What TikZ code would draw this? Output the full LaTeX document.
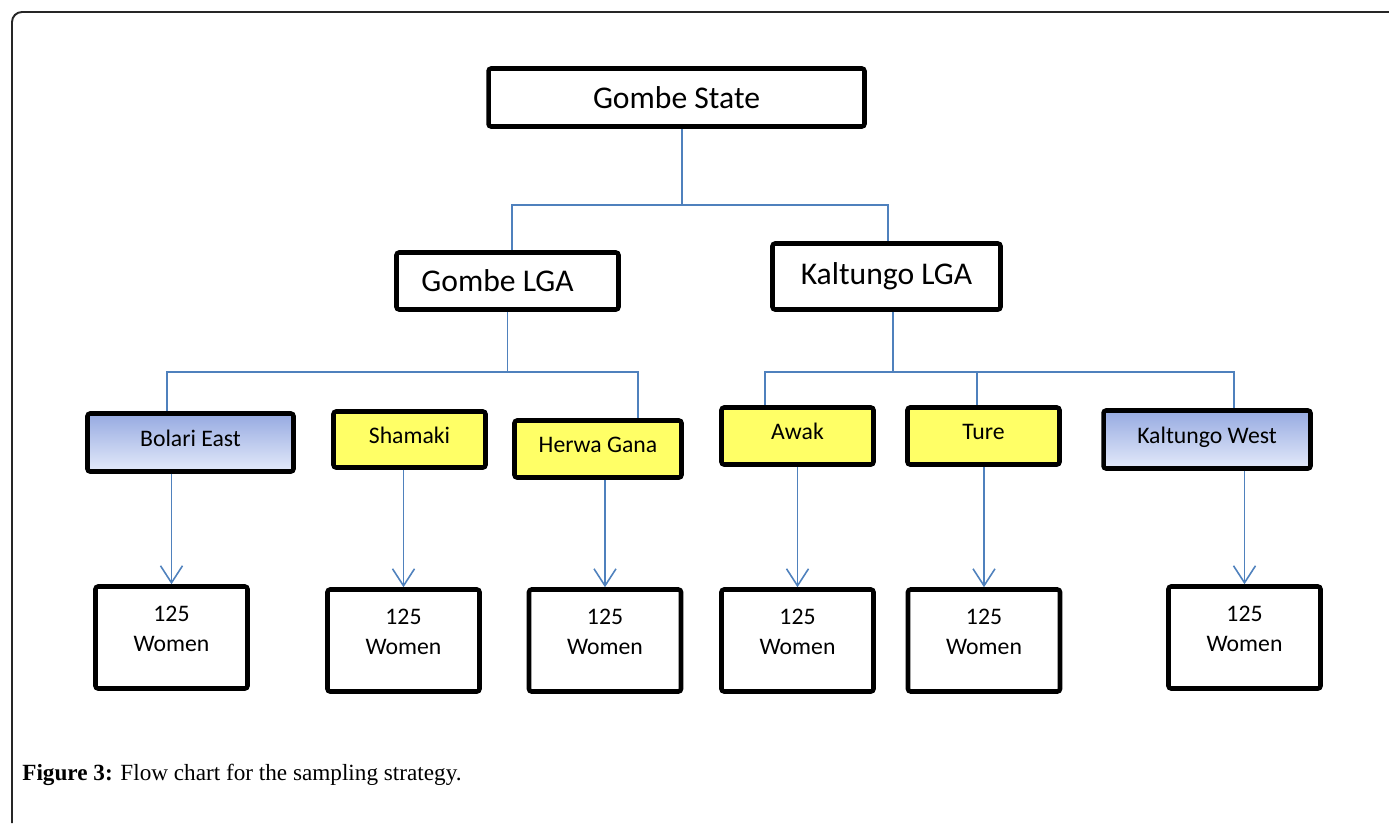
\documentclass[tikz,border=0pt]{standalone}
\usepackage{fontspec}
\setmainfont{Carlito}
\newfontfamily\captionserif{Liberation Serif}
\usetikzlibrary{arrows.meta}

\definecolor{linkblue}{RGB}{79,129,189}
\definecolor{wardyellow}{RGB}{255,255,102}
\definecolor{shadetop}{RGB}{150,170,225}
\definecolor{shadebottom}{RGB}{228,234,250}

\tikzset{
  box/.style={draw=black, line width=2.6pt, rounded corners=1.5pt, inner sep=2pt},
  statebox/.style={box, minimum width=7.52cm, minimum height=1.16cm, font=\fontsize{18}{22}\selectfont},
  lgabox/.style={box, font=\fontsize{18}{22}\selectfont},
  ward/.style={box, minimum height=1.14cm, text height=0.33cm, text depth=0.19cm, font=\fontsize{13.5}{16}\selectfont},
  yellowward/.style={ward, fill=wardyellow},
  blueward/.style={ward, top color=shadetop, bottom color=shadebottom},
  sample/.style={box, minimum width=3.04cm, minimum height=2.04cm},
  samplecount/.style={align=center, font=\fontsize{13.5}{17}\selectfont},
  link/.style={draw=linkblue, line width=0.9pt},
  sampled/.style={link, -{Straight Barb[length=0.34cm,width=0.44cm]}},
}

\begin{document}
\begin{tikzpicture}[x=0.02cm, y=-0.02cm]
	\useasboundingbox (0,0) rectangle (1389,823);
	% frame of the figure
	\draw[line width=1.1pt, draw=black!85, rounded corners=0.2cm] (12,823) -- (12,12) -- (1389,12);

	\node[statebox] (state) at (676.5,97.5) {Gombe State};
	\node[lgabox, minimum width=4.44cm, minimum height=1.14cm] (glga) at (507.5,281) {Gombe LGA\kern0.4cm};
	\node[lgabox, minimum width=4.56cm, minimum height=1.32cm] (klga) at (886.5,276.5) {Kaltungo LGA};

	\node[blueward, minimum width=4.12cm, minimum height=1.16cm] (bolari) at (190.5,442.5) {Bolari East};
	\node[yellowward, minimum width=3.04cm, minimum height=1.12cm] (shamaki) at (409.5,439.5) {Shamaki};
	\node[yellowward, minimum width=3.34cm] (herwa) at (598,449) {Herwa Gana};
	\node[yellowward, minimum width=3.04cm] (awak) at (797.5,436) {Awak};
	\node[yellowward, minimum width=3.04cm] (ture) at (983.5,436) {Ture};
	\node[blueward, minimum width=4.14cm, minimum height=1.16cm] (kwest) at (1207,439.5) {Kaltungo West};

	\foreach \n/\x/\y in {w1/171.5/637.5, w2/403.5/640.5, w3/605/640.5, w4/797.5/640.5, w5/984/640.5, w6/1244.5/637.5} {
		\node[sample] (\n) at (\x,\y) {};
		\node[samplecount] (\n-count) at ([yshift=0.17cm]\n.center) {125\\Women};
	}

	\coordinate (bar1) at (0,205);
	\coordinate (bar2) at (0,372);

	\draw[link] ([xshift=0.11cm]state.south) -- ([xshift=0.11cm]state.south |- bar1);
	\draw[link] ([xshift=0.09cm]glga.north) |- (bar1 -| state.south) -| ([xshift=0.03cm]klga.north);

	\draw[link] (glga.south) -- (glga.south |- bar2);
	\draw[link] ([xshift=-0.47cm]bolari.north) |- (bar2 -| glga.south) -| ([xshift=0.8cm]herwa.north);
	\draw[link] ([xshift=0.13cm]klga.south) -- ([xshift=0.13cm]klga.south |- bar2);
	\draw[link] ([xshift=-0.65cm]awak.north) |- (bar2 -| klga.south) -| ([xshift=0.54cm]kwest.north);
	\draw[link] ([xshift=-0.13cm]ture.north) -- ([xshift=-0.13cm]ture.north |- bar2);

	\path
	(bolari.south -| w1.north) edge[sampled] (w1.north)
	(shamaki.south -| w2.north) edge[sampled] (w2.north)
	(herwa.south -| w3.north) edge[sampled] (w3.north)
	(awak.south -| w4.north) edge[sampled] (w4.north)
	(ture.south -| w5.north) edge[sampled] (w5.north)
	(kwest.south -| w6.north) edge[sampled] (w6.north);

	\node[anchor=base west, inner sep=0pt, font=\captionserif\fontsize{13.2}{15}\selectfont] (caption) at (22,780)
		{\textbf{Figure 3:} Flow chart for the sampling strategy.};
\end{tikzpicture}
\end{document}
